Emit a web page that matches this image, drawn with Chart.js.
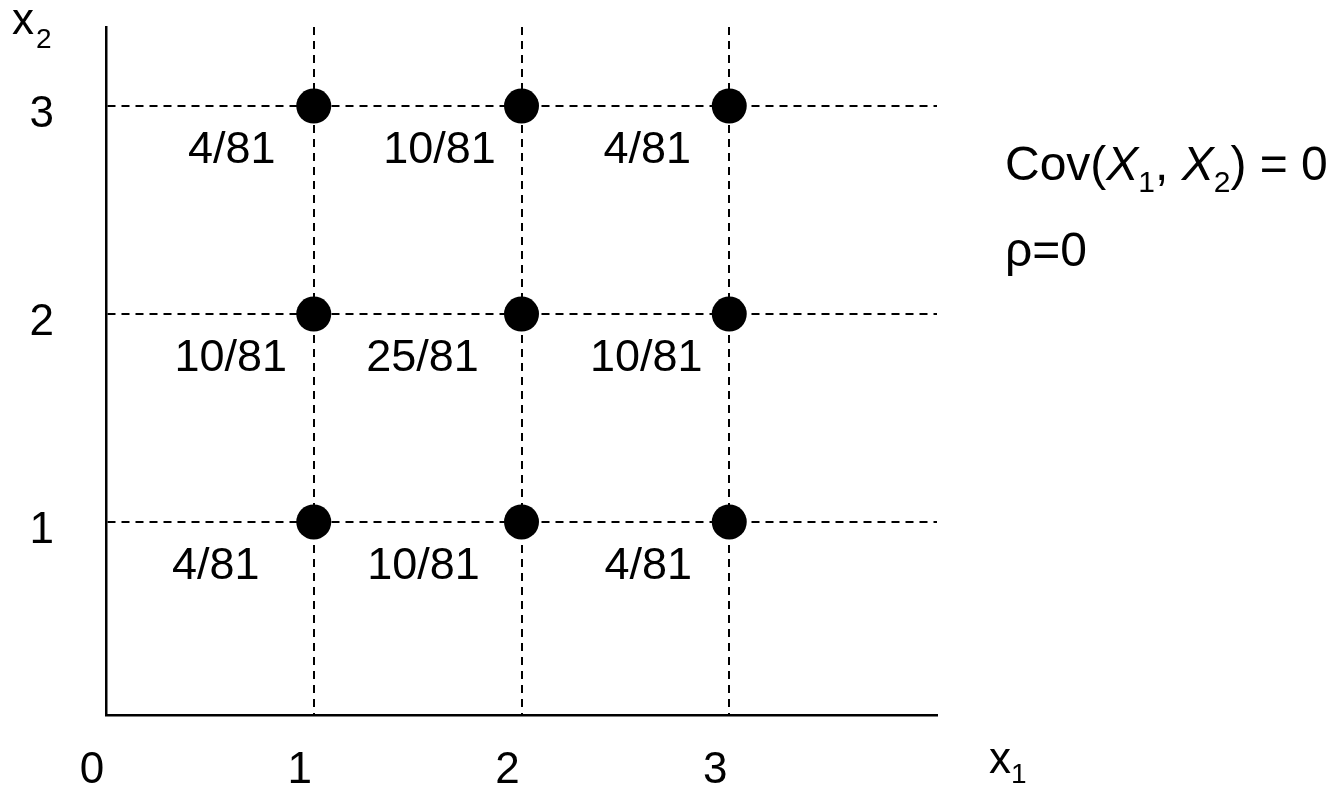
<!DOCTYPE html>
<html>
<head>
<meta charset="utf-8">
<script src="https://cdn.jsdelivr.net/npm/chart.js@4"></script>
<style>
  html, body { margin: 0; padding: 0; background: #fff; }
  canvas { display: block; }
</style>
</head>
<body>
<canvas id="joint-chart" width="1337" height="792"></canvas>
<script>
// ── data ──────────────────────────────────────────────────────────────────
const x1Vals = [1, 2, 3, 1, 2, 3, 1, 2, 3];
const x2Vals = [3, 3, 3, 2, 2, 2, 1, 1, 1];
const probLabels = ['4/81', '10/81', '4/81', '10/81', '25/81', '10/81', '4/81', '10/81', '4/81'];
const xTicks = [0, 1, 2, 3];
const yTicks = [1, 2, 3];
const covText = ['Cov(', 'X', '1', ', ', 'X', '2', ') = 0'];
const rhoText = 'ρ=0';

// label nudges (px, left of each point) – layout only
const labelDx = [-82, -82, -82, -83, -99, -83, -98, -98, -81];

const FONT = "'Liberation Sans', Arial, sans-serif";

// ── annotation plugin: prob labels, axis names, Cov / rho text ───────────
const annot = {
  id: 'annot',
  afterDatasetsDraw(chart) {
    const { ctx } = chart;
    const pts = chart.getDatasetMeta(0).data;
    ctx.save();
    ctx.fillStyle = '#000';
    ctx.textBaseline = 'alphabetic';

    ctx.font = `45px ${FONT}`;
    ctx.textAlign = 'center';
    pts.forEach((p, i) => ctx.fillText(probLabels[i], p.x + labelDx[i], p.y + 57));

    ctx.textAlign = 'left';
    // axis names
    ctx.font = `44px ${FONT}`;
    ctx.fillText('x', 12, 34);
    ctx.font = `28px ${FONT}`;
    ctx.fillText('2', 36, 48);
    ctx.font = `44px ${FONT}`;
    ctx.fillText('x', 989, 773);
    ctx.font = `28px ${FONT}`;
    ctx.fillText('1', 1011, 783);

    // Cov(X1, X2) = 0
    let x = 1005;
    covText.forEach((t, i) => {
      const sub = (i === 2 || i === 5);
      const ital = (i === 1 || i === 4);
      ctx.font = (ital ? 'italic ' : '') + (sub ? '30px ' : '48px ') + FONT;
      ctx.fillText(t, x, sub ? 192 : 180);
      x += ctx.measureText(t).width;
    });
    ctx.font = `48px ${FONT}`;
    ctx.fillText(rhoText, 1005, 266);
    ctx.restore();
  }
};

const gridCol = c => (c.tick && c.tick.value === 0) ? 'rgba(0,0,0,0)' : '#000';
const noEdgePad = s => { s.paddingTop = 0; s.paddingBottom = 0; s.paddingLeft = 0; s.paddingRight = 0; };

new Chart(document.getElementById('joint-chart'), {
  type: 'scatter',
  data: {
    datasets: [{
      data: x1Vals.map((v, i) => ({ x: v, y: x2Vals[i] })),
      backgroundColor: '#000', borderWidth: 0,
      pointRadius: 17.5, pointHoverRadius: 17.5
    }]
  },
  options: {
    responsive: false, animation: false, events: [],
    layout: { padding: { left: 30, right: 400, top: 27, bottom: 0 } },
    plugins: { legend: { display: false }, tooltip: { enabled: false } },
    scales: {
      x: {
        type: 'linear', min: 0, max: 4,
        afterBuildTicks: s => { s.ticks = xTicks.map(v => ({ value: v })); },
        afterFit: s => { s.height = 77; noEdgePad(s); },
        grid: { color: gridCol, lineWidth: 2, drawTicks: false },
        border: { color: '#000', width: 2.5, dash: [8, 6] },
        ticks: { color: '#000', font: { family: FONT, size: 44, lineHeight: 1 }, padding: 34, labelOffset: -14, maxRotation: 0, autoSkip: false }
      },
      y: {
        type: 'linear', min: 0.072, max: 3.38,
        afterBuildTicks: s => { s.ticks = yTicks.map(v => ({ value: v })); },
        afterFit: s => { s.width = 76; noEdgePad(s); },
        grid: { color: gridCol, lineWidth: 2, drawTicks: false },
        border: { color: '#000', width: 2.5, dash: [8, 6] },
        ticks: { color: '#000', font: { family: FONT, size: 44, lineHeight: 1 }, padding: 52, labelOffset: 9, autoSkip: false }
      }
    }
  },
  plugins: [annot]
});
</script>
</body>
</html>
